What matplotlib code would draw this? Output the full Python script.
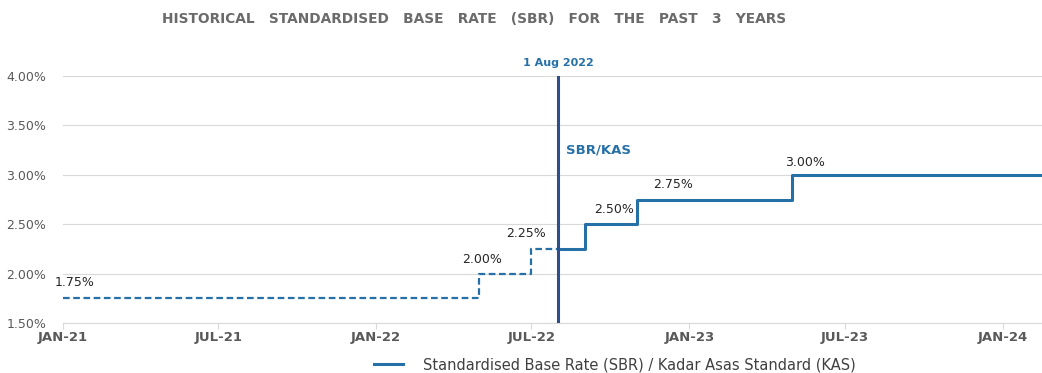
import matplotlib
matplotlib.use("Agg")
import matplotlib.pyplot as plt
import matplotlib.dates as mdates
from matplotlib.lines import Line2D
import numpy as np
import datetime as dt

# ---- data ----
step_dates = ["2021-01-01", "2022-05-01", "2022-07-01", "2022-09-01",
              "2022-11-01", "2023-05-01", "2024-02-16"]
step_rates = [1.75, 2.00, 2.25, 2.50, 2.75, 3.00, 3.00]
step_labels = ["1.75%", "2.00%", "2.25%", "2.50%", "2.75%", "3.00%"]
cutover_date = "2022-08-01"
cutover_label = "1 Aug 2022"
tick_dates = ["2021-01-01", "2021-07-01", "2022-01-01", "2022-07-01",
              "2023-01-01", "2023-07-01", "2024-01-01"]
tick_labels = ["JAN-21", "JUL-21", "JAN-22", "JUL-22", "JAN-23", "JUL-23", "JAN-24"]
y_ticks = [1.50, 2.00, 2.50, 3.00, 3.50, 4.00]
y_tick_labels = ["1.50%", "2.00%", "2.50%", "3.00%", "3.50%", "4.00%"]

LINE = "#2670A8"
NAVY = "#2F4E8C"
GRAY = "#595959"
FONT = "DejaVu Sans"

to_d = lambda s: mdates.date2num(dt.datetime.strptime(s, "%Y-%m-%d"))
xd = np.array([to_d(s) for s in step_dates])
yr = np.array(step_rates)
xc = to_d(cutover_date)

fig = plt.figure(figsize=(10.42, 3.73), dpi=100)
ax = fig.add_axes([0.0605, 0.134, 0.9395, 0.662])

# dashed part (before cutover)
mask = xd < xc
xdash = np.append(xd[mask], xc)
ydash = np.append(yr[mask], yr[mask][-1])
ax.step(xdash, ydash, where="post", color=LINE, lw=1.6, ls=(0, (3, 1.6)), zorder=3)
# solid part (after cutover)
xsol = np.insert(xd[~mask], 0, xc)
ysol = np.insert(yr[~mask], 0, yr[mask][-1])
ax.step(xsol, ysol, where="post", color=LINE, lw=2.2, zorder=3)

ax.set_xlim(xd[0], xd[-1])
ax.set_ylim(1.5, 4.0)

# vertical cutover line
ax.axvline(xc, color=NAVY, lw=2.2, zorder=4)
ax.text(xc, 4.08, cutover_label, ha="center", va="bottom", color=LINE,
        fontsize=8, fontweight="bold", family=FONT)
ax.text(xc + 9, 3.25, "SBR/KAS", ha="left", va="center", color=LINE,
        fontsize=9.5, fontweight="bold", family=FONT)

# step labels
offsets = [(12, 9), (3, 8), (-5, 9), (29, 8), (36, 9), (13, 6)]
for i, lab in enumerate(step_labels):
    ax.annotate(lab, xy=(xd[i], yr[i]), xytext=(offsets[i][0] * 0.72, offsets[i][1] * 0.72),
                textcoords="offset points", ha="center", va="bottom",
                fontsize=9, color="#262626", family=FONT)

# axes styling
ax.set_xticks([to_d(s) for s in tick_dates])
ax.set_xticklabels(tick_labels, fontsize=9.5, fontweight="bold", color=GRAY, family=FONT)
ax.set_yticks(y_ticks)
ax.set_yticklabels(y_tick_labels, fontsize=9, color=GRAY, family=FONT)
ax.tick_params(axis="y", length=0, pad=12)
ax.tick_params(axis="x", length=4, color="#D9D9D9", pad=2)
ax.grid(axis="y", color="#D9D9D9", lw=0.8)
ax.set_axisbelow(True)
for s in ["top", "right", "left"]:
    ax.spines[s].set_visible(False)
ax.spines["bottom"].set_color("#D9D9D9")

# title
fig.text(0.455, 0.950, "HISTORICAL   STANDARDISED   BASE   RATE   (SBR)   FOR   THE   PAST   3   YEARS",
         ha="center", va="center", fontsize=9.9, color="#6B6B6B", family=FONT,
         fontweight="bold")

# legend
handle = Line2D([], [], color=LINE, lw=2.2)
fig.legend([handle], ["Standardised Base Rate (SBR) / Kadar Asas Standard (KAS)"],
           loc="center", bbox_to_anchor=(0.590, 0.022), frameon=False,
           prop={"family": FONT, "size": 10.5}, labelcolor="#404040",
           handlelength=2.0, handletextpad=1.4)

fig.savefig("out.png", dpi=100)
